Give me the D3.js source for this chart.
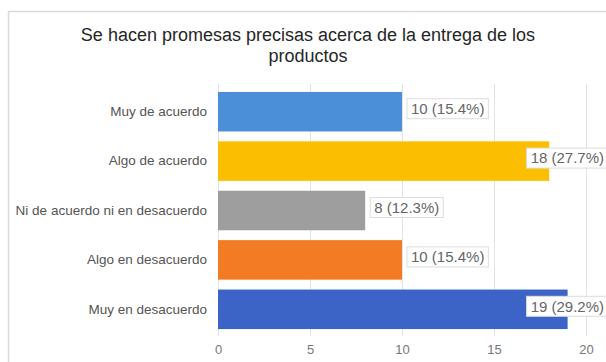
<!DOCTYPE html>
<html>
<head>
<meta charset="utf-8">
<script src="https://cdn.jsdelivr.net/npm/d3@7"></script>
<style>
  html, body { margin: 0; padding: 0; background: #ffffff; }
  svg { display: block; }
</style>
</head>
<body>
<svg id="chart" width="606" height="362"></svg>
<script>
// Survey answers and their counts
const categories = [
  "Muy de acuerdo",
  "Algo de acuerdo",
  "Ni de acuerdo ni en desacuerdo",
  "Algo en desacuerdo",
  "Muy en desacuerdo"
];
const counts = [10, 18, 8, 10, 19];
const percents = ["15.4%", "27.7%", "12.3%", "15.4%", "29.2%"];
const barColors = ["#4a8fd8", "#fcbe00", "#9e9e9e", "#f37b24", "#3b64c6"];
const tickValues = [0, 5, 10, 15, 20];
const titleLines = ["Se hacen promesas precisas acerca de la entrega de los", "productos"];

const svg = d3.select("#chart");
const W = 606, H = 362;
const FONT = "Arial, 'Liberation Sans', sans-serif";

// card frame
svg.append("rect")
  .attr("x", 8.5).attr("y", 11.5)
  .attr("width", W + 10).attr("height", H + 10)
  .attr("fill", "#ffffff")
  .attr("stroke", "#dadada").attr("stroke-width", 1.5);

// title
const title = svg.append("text")
  .attr("text-anchor", "middle")
  .attr("font-family", FONT)
  .attr("font-size", 18)
  .attr("fill", "#262626");
titleLines.forEach((t, i) => {
  title.append("tspan").attr("x", 308).attr("y", 41 + i * 21).text(t);
});

const x = d3.scaleLinear().domain([0, 20]).range([218, 586]);
const y = d3.scaleBand().domain(categories).range([87, 334])
  .paddingInner(0.2).paddingOuter(0.1);

// vertical gridlines
svg.append("g").selectAll("line")
  .data(tickValues)
  .join("line")
  .attr("x1", d => x(d) + 0.5).attr("x2", d => x(d) + 0.5)
  .attr("y1", 84).attr("y2", 336)
  .attr("stroke", "#e3e3e3").attr("stroke-width", 1);

// bottom axis labels
const xAxis = d3.axisBottom(x).tickValues(tickValues).tickSize(0).tickPadding(0);
const gx = svg.append("g").attr("transform", "translate(0,345)").call(xAxis);
gx.select(".domain").remove();
gx.selectAll("text")
  .attr("font-family", FONT)
  .attr("font-size", 13)
  .attr("fill", "#777777")
  .attr("dy", "0.71em");

// category labels
const yAxis = d3.axisLeft(y).tickSize(0).tickPadding(0);
const gy = svg.append("g").attr("transform", "translate(207,0)").call(yAxis);
gy.select(".domain").remove();
gy.selectAll("text")
  .attr("font-family", FONT)
  .attr("font-size", 13.5)
  .attr("fill", "#555555");

// bars
const rows = categories.map((c, i) => ({ cat: c, v: counts[i], p: percents[i], color: barColors[i] }));
svg.append("g").selectAll("rect")
  .data(rows)
  .join("rect")
  .attr("x", x(0))
  .attr("y", d => y(d.cat))
  .attr("width", d => x(d.v) - x(0))
  .attr("height", y.bandwidth())
  .attr("fill", d => d.color);

// value labels in white boxes
const labels = svg.append("g").selectAll("g")
  .data(rows)
  .join("g");
labels.each(function(d) {
  const g = d3.select(this);
  const txt = g.append("text")
    .attr("font-family", FONT)
    .attr("font-size", 15)
    .attr("fill", "#666666")
    .attr("dy", "0.35em")
    .text(`${d.v} (${d.p})`);
  const tw = txt.node().getComputedTextLength();
  const bw = tw + 8, bh = 20;
  const bx = Math.min(x(d.v) + 5, 608 - bw);
  const cy = y(d.cat) + y.bandwidth() / 2 - 3;
  g.insert("rect", "text")
    .attr("x", bx).attr("y", cy - bh / 2)
    .attr("width", bw).attr("height", bh)
    .attr("fill", "#ffffff")
    .attr("stroke", "#dddddd").attr("stroke-width", 1);
  txt.attr("x", bx + 4).attr("y", cy);
});
</script>
</body>
</html>
